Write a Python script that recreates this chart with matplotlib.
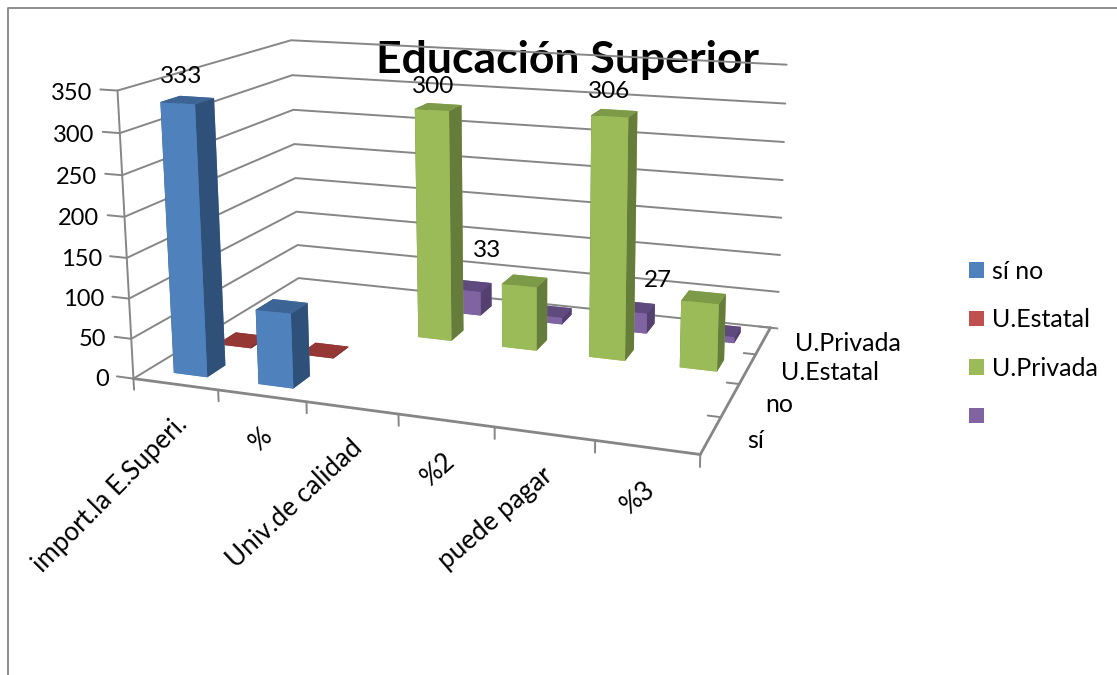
import numpy as np
import matplotlib
matplotlib.use("Agg")
import matplotlib.pyplot as plt
from matplotlib.lines import Line2D
from matplotlib.patches import Patch
from mpl_toolkits.mplot3d import Axes3D  # noqa: F401

plt.rcParams["font.family"] = ["Lato", "DejaVu Sans"]

W, H = 1117, 675

categories = ["import.la E.Superi.", "%", "Univ.de calidad", "%2", "puede pagar", "%3"]
rows = ["sí", "no", "U.Estatal", "U.Privada"]
legend_labels = ["sí no", "U.Estatal", "U.Privada", ""]
z_ticks = [0, 50, 100, 150, 200, 250, 300, 350]

si_no = [333, 92, 0, 0, 0, 0]
estatal = [2, 1, 0, 0, 0, 0]
privada = [0, 0, 300, 83, 306, 85]
sin_nombre = [0, 0, 33, 9, 27, 8]
series = [si_no, estatal, privada, sin_nombre]

# face colours: front, top, side
front_cols = ["#4F81BD", "#953735", "#9BBB59", "#8064A2"]
top_cols = ["#3C6494", "#953735", "#7D9A48", "#5F4A7E"]
side_cols = ["#2F5078", "#7A2C2A", "#667C3A", "#54406F"]
legend_cols = ["#4F81BD", "#C0504D", "#9BBB59", "#8064A2"]
grid_col = "#868686"

# where the box of the chart sits in the picture: (x, y, z) -> (px, py)
calib = [
    ((0, 0, 0), (134, 378)), ((6, 0, 0), (701, 454)), ((6, 4, 0), (771, 328)),
    ((0, 4, 0), (298, 278)), ((0, 0, 350), (117, 91)), ((0, 4, 350), (292, 40)),
    ((6, 4, 350), (779, 64)), ((6, 1, 0), (721, 417)), ((6, 2, 0), (739, 384)),
    ((6, 3, 0), (755, 355)), ((0, 0, 200), (124, 217)), ((0, 0, 100), (129, 299)),
]


def fit_camera(pairs):
    eqs = []
    for (x, y, z), (u, v) in pairs:
        eqs.append([x, y, z, 1, 0, 0, 0, 0, -u * x, -u * y, -u * z, -u])
        eqs.append([0, 0, 0, 0, x, y, z, 1, -v * x, -v * y, -v * z, -v])
    cam = np.linalg.svd(np.array(eqs, dtype=float))[2][-1].reshape(3, 4)
    if cam[2, 3] < 0:
        cam = -cam
    return cam / cam[2, 3]


cam = fit_camera(calib)

fig = plt.figure(figsize=(W / 100, H / 100), dpi=100)
ax = fig.add_axes([0, (1 - W / H) / 2, 1, W / H], projection="3d")
ax.set_axis_off()
ax.patch.set_visible(False)


def get_proj():
    to_data = ax.transData.inverted().get_matrix()
    flip = np.array([[1, 0, 0], [0, -1, H], [0, 0, 1]], dtype=float)
    top = to_data @ flip @ cam
    return np.vstack([top[0], top[1], [0, 0, 0, -1], top[2]])


ax.get_proj = get_proj


def line3(xs, ys, zs, lw=1.4):
    ax.plot(xs, ys, zs, color=grid_col, lw=lw, solid_capstyle="round", zorder=1)


# walls, floor and ticks
for z in z_ticks:
    line3([-0.2, 0, 0, 6.08], [0, 0, 4, 4], [z, z, z, z])
line3([0, 0], [0, 0], [0, 350])
line3([0, 6], [0, 0], [0, 0], lw=2)
line3([6, 6], [0, 4], [0, 0], lw=2)
for k in range(7):
    line3([k, k], [0, 0], [0, -14])
for k in range(5):
    line3([6, 5.87], [k, k], [0, 0])

# bars
bar_w = 0.40
for r in range(4):
    for c in range(6):
        v = series[r][c]
        if v == 0:
            continue
        ax.bar3d(c + 0.51 - bar_w / 2, r + 0.5 - bar_w / 2, 0, bar_w, bar_w, v,
                 color=[front_cols[r], top_cols[r], front_cols[r], front_cols[r],
                        side_cols[r], side_cols[r]],
                 shade=False, edgecolor="none")

# tick labels
for z in z_ticks:
    ax.text(-0.3, 0, z - 5, str(z), ha="right", va="center", fontsize=17)
for c, name in enumerate(categories):
    # text direction is taken from a 3D vector, this one lands at about 45 degrees
    ax.text(c + 0.47, 0, -34, name, zdir=(0.125, 0, 14.6), ha="right", va="top", fontsize=18.7,
            rotation_mode="anchor")
for r, name in enumerate(rows):
    ax.text(6.37, r + 0.35, 6, name, ha="left", va="center", fontsize=18)

# data labels
for r, c, dx, dz in [(0, 0, -0.05, 27), (2, 2, -0.05, 26), (2, 4, -0.05, 26),
                     (3, 2, 0.23, 53), (3, 4, 0.28, 40)]:
    ax.text(c + 0.5 + dx, r + 0.5, series[r][c] + dz, str(series[r][c]), ha="center",
            va="center", fontsize=17.5)

fig.text(567 / W, 1 - 60.5 / H, "Educación Superior", ha="center", va="center", fontsize=32,
         fontweight="bold", zorder=-1)

handles = [Patch(color=col, lw=0) for col in legend_cols]
fig.legend(handles, legend_labels, loc="center left", bbox_to_anchor=(956 / W, 1 - 344 / H),
           frameon=False, fontsize=18, handlelength=0.6, handleheight=0.6, handletextpad=0.36,
           labelspacing=1.02, borderpad=0)

fig.add_artist(Line2D([7.5 / W, 7.5 / W, 1], [0, 1 - 7.5 / H, 1 - 7.5 / H], color=grid_col, lw=1.3))

fig.savefig("out.png", dpi=100)
